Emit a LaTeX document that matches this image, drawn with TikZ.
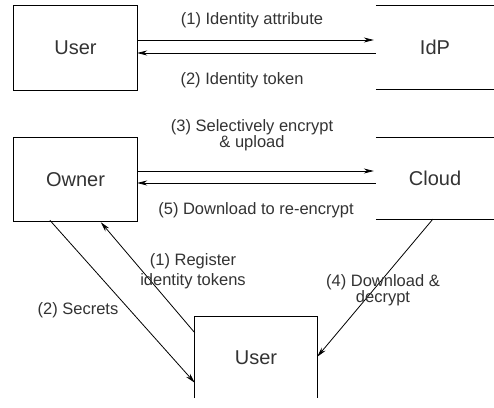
\documentclass[tikz,border=0pt]{standalone}
\usepackage{fontspec}
\setmainfont{Liberation Sans}
\usetikzlibrary{arrows.meta,calc}
\begin{document}
\begin{tikzpicture}[x=1pt,y=-1pt,
  every node/.style={text=black!80},
  entity/.style={draw=none,inner sep=0pt,font=\fontsize{20}{22}\selectfont},
  msg/.style={font=\fontsize{16.5}{16.5}\selectfont,align=center,inner sep=0pt},
  flow/.style={line width=0.8pt,-{Stealth[length=10pt,width=5pt]}},
  boxline/.style={line width=0.9pt}]
\useasboundingbox (0,0) rectangle (494,407);
\fill[white] (0,0) rectangle (494,407);

% parties
\node[entity,minimum width=123pt,minimum height=84pt] (user1) at (75.5,48) {User};
\node[entity,minimum width=118pt,minimum height=83pt] (idp) at (435,47.5) {IdP};
\node[entity,minimum width=123pt,minimum height=83pt] (owner) at (75.5,179.5) {Owner};
\node[entity,minimum width=118pt,minimum height=81pt] (cloud) at (435,178.5) {Cloud};
\node[entity,minimum width=122pt,minimum height=81pt] (user2) at (256,357.5) {User};

% box outlines
\draw[boxline] (user1.north west) rectangle (user1.south east);
\draw[boxline] (owner.north west) rectangle (owner.south east);
\draw[boxline] (idp.north west) -- (idp.north east) (idp.south west) -- (idp.south east);
\draw[boxline] (cloud.north west) -- (cloud.north east) (cloud.south west) -- (cloud.south east);
\draw[boxline] (user2.south west) -- (user2.north west) -- (user2.north east) -- (user2.south east);

% identity provider exchange
\draw[flow] ($(user1.east)+(0,-8)$) -- ($(idp.west)+(-2,-7.5)$);
\draw[flow] ($(idp.west)+(0,5.5)$) -- ($(user1.east)+(0,5)$);
\node[msg] (l1) at (252,20) {(1) Identity attribute};
\node[msg] (l2) at (242,80) {(2) Identity token};

% cloud exchange
\draw[flow] ($(owner.east)+(0,-8.5)$) -- ($(cloud.west)+(-2,-7.5)$);
\draw[flow] ($(cloud.west)+(0,4.5)$) -- ($(owner.east)+(0,3.5)$);
\node[msg] (l3) at (252,135) {(3) Selectively encrypt\\\& upload};
\node[msg] (l5) at (256,210) {(5) Download to re-encrypt};

% user interactions
\draw[flow] ($(owner.south west)+(36,-1)$) -- ($(user2.north west)+(0,66)$);
\draw[flow] ($(user2.north west)+(0,16)$) -- ($(owner.south west)+(87,1)$);
\draw[flow] ($(cloud.south west)+(57,0)$) -- ($(user2.north east)+(0,40)$);
\node[msg] (lr) at (193,271) {(1) Register\\[4pt]identity tokens};
\node[msg] (ls) at (78,310) {(2) Secrets};
\node[msg] (ld) at (383,290) {(4) Download \&\\decrypt};
\end{tikzpicture}
\end{document}
